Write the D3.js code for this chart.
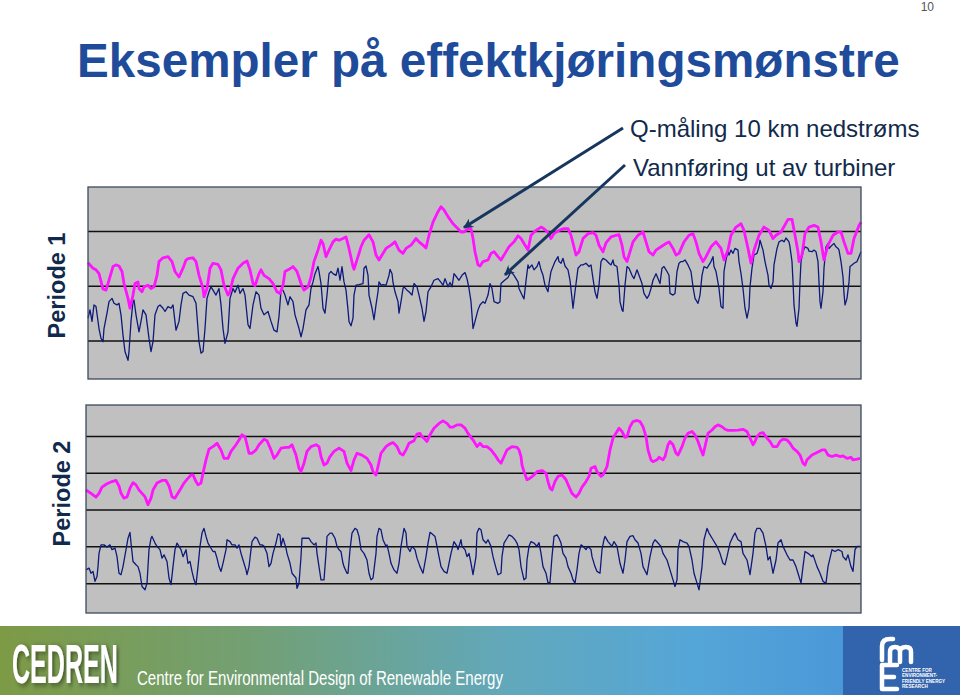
<!DOCTYPE html>
<html><head><meta charset="utf-8">
<script src="https://cdn.jsdelivr.net/npm/d3@7/dist/d3.min.js"></script>
<style>
html,body{margin:0;padding:0;background:#fff;}
svg{display:block;font-family:"Liberation Sans",Arial,Helvetica,sans-serif;}
</style></head>
<body>
<svg id="chart" width="960" height="695"></svg>
<script>
// ---------- DATA ----------
const pageNumber = "10";
const titleText = "Eksempler på effektkjøringsmønstre";
const seriesLabels = ["Q-måling 10 km nedstrøms", "Vannføring ut av turbiner"];
const periodLabels = ["Periode 1", "Periode 2"];
const footerName = "CEDREN";
const footerTagline = "Centre for Environmental Design of Renewable Energy";
const fmeSmallText = ["CENTRE FOR", "ENVIRONMENT-", "FRIENDLY ENERGY", "RESEARCH"];

// grid values (no tick labels shown in the original)
const p1Grid = [100, 200, 300];
const p2Grid = [100, 200, 300, 400, 500];
const p1Domain = [30, 380];
const p2Domain = [19, 584];
const p1Hours = [0, 773];
const p2Hours = [0, 775];

// Periode 1: [hour, value]
const p1Downstream = [[0,242],[5,232],[8,229],[11,222],[15,194],[18,192],[21,210],[25,235],[28,238],[31,236],[34,226],[36,204],[40,177],[42,159],[45,183],[47,204],[50,207],[51,195],[54,189],[56,198],[60,201],[63,195],[66,198],[69,219],[71,244],[75,251],[80,253],[84,244],[87,226],[91,216],[95,232],[98,247],[101,250],[105,251],[108,244],[111,219],[115,195],[116,180],[119,195],[122,232],[125,241],[130,239],[133,229],[136,201],[140,183],[142,189],[145,213],[150,232],[155,241],[159,245],[162,229],[165,204],[167,200],[171,222],[173,229],[176,219],[181,213],[185,204],[189,189],[192,186],[195,201],[197,226],[201,230],[205,235],[209,226],[213,204],[216,192],[220,198],[223,216],[226,244],[230,265],[233,283],[235,277],[238,253],[241,265],[245,280],[248,285],[251,283],[255,286],[258,289],[261,268],[265,235],[266,230],[270,253],[273,271],[276,283],[281,293],[285,280],[288,256],[291,247],[294,256],[298,268],[303,274],[307,280],[311,265],[315,259],[318,268],[323,274],[328,286],[331,280],[335,274],[338,269],[341,292],[345,316],[350,335],[353,344],[356,338],[360,326],[365,313],[370,304],[373,298],[376,298],[380,304],[383,304],[385,286],[387,262],[390,238],[392,236],[395,244],[400,247],[403,259],[406,262],[410,253],[413,247],[417,259],[421,271],[426,280],[430,291],[433,286],[436,277],[440,265],[443,292],[448,301],[453,307],[456,304],[460,297],[463,286],[466,295],[471,301],[476,304],[480,304],[483,292],[488,256],[491,262],[495,286],[500,295],[505,297],[508,292],[511,274],[515,262],[518,278],[523,289],[528,292],[531,293],[534,274],[536,253],[539,244],[541,256],[545,280],[550,292],[555,298],[558,280],[561,262],[565,256],[568,265],[573,271],[578,277],[581,280],[585,268],[588,256],[591,259],[596,280],[601,292],[605,295],[608,280],[611,259],[615,244],[618,253],[623,271],[628,280],[633,268],[636,247],[640,265],[643,292],[648,307],[653,313],[656,301],[660,268],[663,241],[666,265],[671,292],[676,307],[681,301],[685,286],[688,292],[693,298],[700,321],[704,321],[707,292],[710,262],[711,244],[714,256],[717,295],[721,307],[726,310],[730,307],[733,280],[736,247],[740,274],[745,292],[750,298],[753,298],[756,280],[760,259],[763,259],[766,286],[771,310],[773,316]];

const p1Turbine = [[0,141],[2,156],[4,135],[6,165],[8,162],[11,122],[13,104],[15,98],[16,122],[19,150],[21,171],[24,177],[26,168],[29,165],[31,168],[33,147],[35,110],[37,80],[40,64],[41,80],[43,135],[45,171],[46,174],[48,147],[51,116],[53,135],[55,156],[58,147],[61,104],[63,80],[65,98],[67,147],[70,162],[72,165],[75,159],[77,153],[80,162],[83,159],[85,165],[88,119],[91,135],[93,165],[95,186],[98,189],[101,183],[105,180],[108,168],[111,98],[113,77],[115,80],[117,122],[119,177],[121,189],[123,198],[125,192],[128,183],[131,195],[133,165],[135,122],[137,95],[140,116],[142,177],[145,195],[147,188],[150,201],[152,186],[155,195],[157,183],[160,129],[162,122],[165,165],[168,189],[171,183],[173,159],[176,147],[180,153],[183,135],[186,119],[189,116],[191,144],[193,192],[195,192],[197,183],[200,165],[202,180],[205,171],[207,147],[211,122],[213,107],[215,122],[218,156],[221,165],[223,195],[225,207],[227,222],[230,235],[231,226],[233,204],[235,159],[237,150],[239,183],[241,222],[243,226],[245,222],[248,219],[250,232],[252,210],[254,235],[256,207],[258,192],[260,156],[261,135],[263,127],[265,141],[266,183],[268,201],[271,202],[275,204],[276,232],[278,236],[280,219],[281,183],[284,159],[286,138],[288,165],[290,189],[291,207],[293,201],[295,202],[298,201],[301,219],[302,230],[304,222],[305,206],[307,189],[310,171],[311,150],[313,171],[315,195],[316,198],[319,192],[321,189],[324,183],[326,204],[329,198],[331,183],[334,159],[336,135],[338,153],[340,189],[343,198],[346,210],[350,213],[353,206],[355,201],[357,213],[360,198],[362,206],[364,198],[366,222],[369,215],[371,210],[374,219],[377,224],[379,213],[381,195],[383,171],[385,122],[387,135],[390,156],[392,165],[395,171],[397,168],[400,183],[402,204],[404,195],[406,171],[410,168],[412,171],[413,204],[416,209],[420,215],[423,226],[426,219],[430,207],[431,195],[434,183],[436,176],[438,209],[440,238],[441,232],[444,238],[446,229],[449,235],[451,244],[453,229],[455,219],[457,201],[460,189],[461,204],[463,226],[465,235],[467,244],[470,253],[471,244],[473,241],[475,250],[477,236],[480,229],[482,210],[484,177],[485,159],[487,189],[490,232],[493,238],[495,238],[498,241],[501,235],[503,238],[505,213],[507,189],[509,177],[511,201],[513,244],[515,250],[518,247],[521,241],[523,238],[525,247],[526,238],[529,235],[531,201],[532,171],[534,156],[535,153],[537,201],[539,235],[541,232],[544,219],[546,213],[549,229],[551,219],[554,204],[556,186],[559,177],[561,183],[563,195],[565,210],[568,222],[570,213],[572,204],[574,232],[576,235],[579,226],[581,219],[582,186],[585,183],[587,186],[589,226],[591,241],[593,244],[595,244],[597,247],[600,238],[603,226],[605,198],[607,177],[610,168],[612,183],[614,219],[616,235],[619,232],[621,238],[623,244],[625,253],[626,235],[628,226],[631,195],[633,162],[635,159],[636,226],[638,247],[640,262],[641,256],[643,265],[645,259],[647,268],[650,265],[651,244],[653,222],[655,195],[657,159],[659,141],[661,159],[662,198],[664,232],[666,256],[669,259],[671,271],[672,283],[673,277],[675,265],[677,244],[680,219],[681,201],[683,195],[685,207],[686,238],[689,268],[691,280],[694,283],[696,280],[698,287],[701,280],[702,271],[704,244],[705,207],[706,165],[708,132],[709,126],[711,159],[712,207],[713,244],[715,262],[717,271],[720,268],[721,263],[724,262],[726,265],[728,262],[730,244],[731,207],[732,171],[733,159],[735,189],[736,232],[738,271],[740,277],[741,268],[744,274],[746,277],[748,271],[750,268],[751,265],[753,244],[755,216],[756,186],[757,165],[759,177],[761,207],[762,235],[764,238],[766,241],[769,244],[771,253],[773,262]];

// Periode 2: [hour, value]
const p2Downstream = [[0,353],[5,344],[10,334],[13,344],[16,361],[21,370],[26,376],[30,379],[33,364],[35,344],[38,331],[41,334],[44,358],[47,373],[50,367],[53,353],[56,344],[59,335],[62,313],[65,331],[67,353],[71,372],[76,379],[80,379],[83,364],[86,335],[89,331],[91,340],[95,358],[98,372],[101,382],[105,394],[107,394],[110,376],[112,367],[115,372],[117,399],[120,435],[123,464],[128,473],[131,480],[135,462],[138,439],[142,439],[145,458],[150,476],[153,489],[156,503],[159,498],[161,476],[163,453],[166,453],[170,462],[173,476],[178,491],[181,487],[185,462],[188,439],[191,448],[195,467],[200,469],[203,469],[206,476],[210,448],[213,412],[215,403],[218,426],[221,458],[225,471],[230,476],[233,471],[235,444],[238,421],[241,426],[244,444],[248,458],[253,467],[258,458],[261,426],[265,406],[268,435],[271,453],[276,448],[281,439],[285,421],[287,403],[290,394],[292,417],[295,453],[300,471],[303,477],[307,482],[311,471],[314,453],[317,448],[320,462],[323,480],[328,487],[331,505],[334,507],[336,498],[339,491],[341,485],[344,503],[348,521],[353,534],[357,541],[361,534],[364,524],[367,524],[371,530],[375,530],[379,521],[382,507],[385,496],[388,485],[391,471],[394,480],[397,471],[401,471],[405,462],[409,448],[412,435],[415,426],[418,444],[421,462],[426,471],[431,469],[433,462],[435,444],[436,421],[438,403],[441,381],[444,385],[448,394],[451,403],[456,406],[460,399],[462,376],[464,358],[466,353],[469,376],[472,390],[476,394],[480,381],[483,362],[486,344],[490,334],[493,344],[496,361],[500,376],[503,390],[505,412],[509,417],[511,403],[515,390],[517,394],[521,417],[524,462],[527,494],[531,512],[533,521],[536,512],[539,496],[541,498],[544,525],[547,539],[551,542],[554,539],[557,525],[560,498],[562,462],[565,435],[567,430],[571,435],[573,442],[577,435],[579,444],[582,476],[584,485],[587,476],[590,453],[592,448],[596,471],[599,494],[602,507],[606,512],[609,503],[612,485],[615,462],[617,448],[619,471],[622,507],[626,516],[629,525],[632,530],[636,525],[639,518],[642,515],[647,515],[652,516],[657,518],[661,512],[664,494],[667,476],[669,485],[671,498],[674,507],[677,509],[681,494],[684,485],[687,471],[691,471],[694,485],[697,491],[701,489],[704,480],[707,467],[711,458],[714,448],[717,426],[719,421],[721,435],[726,448],[731,455],[736,462],[739,462],[742,448],[746,444],[750,448],[754,444],[757,446],[761,439],[765,442],[767,435],[771,437],[774,439]];

const p2Turbine = [[0,136],[3,141],[5,127],[7,132],[9,105],[11,118],[12,145],[13,181],[15,204],[18,204],[21,198],[24,204],[26,191],[29,195],[31,172],[33,127],[35,123],[37,145],[40,191],[42,222],[44,238],[45,209],[47,159],[50,150],[52,145],[54,127],[56,91],[59,82],[61,100],[63,191],[65,222],[66,227],[69,209],[71,200],[74,191],[76,168],[78,177],[81,159],[83,114],[85,96],[87,145],[89,191],[91,209],[93,200],[95,191],[97,172],[100,191],[102,154],[104,159],[106,132],[108,109],[110,96],[112,145],[114,200],[116,236],[118,249],[120,227],[122,209],[125,195],[127,186],[129,186],[131,168],[133,145],[135,132],[137,154],[140,191],[141,218],[144,213],[146,204],[149,204],[151,195],[153,204],[155,181],[157,163],[160,136],[161,123],[163,145],[165,191],[166,213],[169,225],[171,222],[174,204],[176,204],[178,201],[181,181],[183,145],[185,154],[187,181],[190,209],[192,234],[194,231],[195,200],[197,222],[200,195],[201,181],[204,154],[206,127],[210,114],[211,86],[213,100],[215,172],[216,222],[220,222],[223,222],[225,213],[228,204],[230,209],[231,181],[233,145],[235,109],[238,109],[240,181],[241,227],[244,236],[246,236],[249,222],[251,200],[253,191],[255,186],[257,154],[258,145],[261,127],[262,127],[264,191],[266,236],[269,249],[271,245],[273,227],[275,191],[278,181],[281,163],[283,127],[285,109],[287,114],[290,181],[291,227],[293,249],[295,245],[297,218],[300,200],[301,204],[303,181],[305,154],[308,136],[311,127],[313,154],[315,200],[318,249],[320,236],[321,200],[324,186],[326,200],[329,191],[331,168],[334,145],[337,127],[340,172],[342,209],[344,238],[346,234],[349,227],[351,200],[353,172],[355,145],[358,132],[361,127],[363,154],[365,181],[368,213],[371,200],[372,191],[375,218],[376,200],[379,191],[381,172],[383,181],[385,154],[387,123],[390,172],[391,236],[393,249],[395,245],[397,218],[400,209],[402,218],[405,200],[407,172],[410,141],[412,123],[415,127],[416,172],[418,209],[421,222],[423,231],[426,227],[429,218],[431,209],[433,191],[435,145],[438,109],[440,114],[441,163],[443,200],[445,213],[448,209],[451,200],[453,210],[455,181],[457,145],[460,127],[462,100],[464,102],[466,172],[468,227],[471,231],[473,222],[475,209],[477,181],[480,168],[482,145],[485,127],[487,109],[489,100],[491,136],[493,181],[495,204],[497,200],[500,191],[502,200],[505,191],[506,172],[509,145],[511,132],[514,127],[516,191],[518,218],[519,227],[522,213],[526,200],[528,213],[531,200],[534,154],[537,127],[539,163],[541,213],[544,227],[547,229],[549,218],[552,209],[555,181],[557,145],[561,123],[564,172],[567,209],[569,218],[572,209],[575,200],[577,181],[581,163],[584,136],[587,109],[589,91],[591,109],[592,191],[594,218],[597,213],[601,209],[603,200],[606,163],[608,127],[611,100],[613,82],[616,145],[618,218],[621,249],[623,236],[627,218],[631,200],[634,181],[637,154],[639,150],[641,172],[644,209],[647,227],[649,236],[652,218],[655,213],[657,181],[661,163],[664,123],[667,181],[669,236],[671,249],[674,249],[677,236],[680,200],[682,163],[684,172],[687,127],[690,163],[692,209],[695,218],[697,200],[701,177],[704,163],[707,163],[710,145],[712,127],[715,100],[717,145],[719,186],[722,181],[726,172],[727,177],[731,145],[734,127],[737,105],[740,100],[742,145],[746,191],[749,186],[752,191],[756,186],[757,172],[760,163],[762,177],[765,145],[767,132],[769,191],[771,200],[774,200]];

// annotation arrow targets in Periode 1 data coordinates [hour, value]
const arrowTargets = [[376, 306], [417, 220]];

// ---------- DRAWING ----------
const svg = d3.select("#chart");
const navyText = "#112a4c";
const pink = "#ff14ff";
const navy = "#0d1a7a";

// defs
const defs = svg.append("defs");
defs.append("marker").attr("id","ah").attr("viewBox","0 0 10 10")
  .attr("refX",9).attr("refY",5).attr("markerWidth",13).attr("markerHeight",10)
  .attr("markerUnits","userSpaceOnUse").attr("orient","auto")
  .append("path").attr("d","M0,0 L10,5 L0,10 L3,5 Z").attr("fill","#17365d");
const grad = defs.append("linearGradient").attr("id","band").attr("x1","0").attr("x2","1").attr("y1","0").attr("y2","0");
[[0,"#7d9a45"],[0.3,"#73a074"],[0.6,"#62a8bb"],[0.82,"#55a6d8"],[1,"#4b98d8"]].forEach(s=>grad.append("stop").attr("offset",s[0]).attr("stop-color",s[1]));
const sh = defs.append("filter").attr("id","shadow").attr("x","-20%").attr("y","-20%").attr("width","160%").attr("height","160%");
sh.append("feGaussianBlur").attr("in","SourceAlpha").attr("stdDeviation",3).attr("result","b");
sh.append("feOffset").attr("in","b").attr("dx",4).attr("dy",2).attr("result","o");
sh.append("feComponentTransfer").attr("in","o").attr("result","o2").append("feFuncA").attr("type","linear").attr("slope",0.45);
const mg = sh.append("feMerge"); mg.append("feMergeNode").attr("in","o2"); mg.append("feMergeNode").attr("in","SourceGraphic");

// helper: horizontally fit a text to a target width with a transform
function fitText(sel, x, y, width){
  const len = sel.node().getComputedTextLength();
  sel.attr("transform", `translate(${x},${y}) scale(${width/len},1)`);
  return sel;
}

// page number
svg.append("text").attr("x",934).attr("y",11).attr("text-anchor","end")
  .attr("font-size",12).attr("fill","#555").text(pageNumber);

// title
fitText(svg.append("text").attr("font-size",47.5).attr("font-weight","bold")
  .attr("fill","#1f4b9b").text(titleText), 77, 77, 823);

// panels
function panel(cfg){
  const x = d3.scaleLinear().domain(cfg.hours).range([cfg.left, cfg.right]);
  const y = d3.scaleLinear().domain(cfg.domain).range([cfg.bottom, cfg.top]);
  const g = svg.append("g");
  g.append("rect").attr("x",cfg.left).attr("y",cfg.top)
    .attr("width",cfg.right-cfg.left).attr("height",cfg.bottom-cfg.top).attr("fill","#c0c0c0");
  const ax = g.append("g").attr("transform",`translate(${cfg.left},0)`)
    .call(d3.axisLeft(y).tickValues(cfg.grid).tickSize(-(cfg.right-cfg.left)).tickFormat(""));
  ax.select(".domain").remove();
  ax.selectAll(".tick text").remove();
  ax.selectAll(".tick line").attr("stroke","#111").attr("stroke-width",1.5);
  const line = d3.line().x(d=>x(d[0])).y(d=>y(d[1]));
  g.append("path").datum(cfg.turbine).attr("d",line).attr("fill","none")
    .attr("stroke",navy).attr("stroke-width",1.3).attr("stroke-linejoin","round");
  g.append("path").datum(cfg.downstream).attr("d",line).attr("fill","none")
    .attr("stroke",pink).attr("stroke-width",2.8).attr("stroke-linejoin","round");
  g.append("rect").attr("x",cfg.left).attr("y",cfg.top)
    .attr("width",cfg.right-cfg.left).attr("height",cfg.bottom-cfg.top)
    .attr("fill","none").attr("stroke","#3b4b5e").attr("stroke-width",1.3);
  return {x,y};
}
const s1 = panel({left:88,right:861,top:187,bottom:379,hours:p1Hours,domain:p1Domain,grid:p1Grid,downstream:p1Downstream,turbine:p1Turbine});
const s2 = panel({left:86,right:861,top:405,bottom:613,hours:p2Hours,domain:p2Domain,grid:p2Grid,downstream:p2Downstream,turbine:p2Turbine});

// series labels + arrows
const labelPos = [[630,137],[633,176]];
const arrowStarts = [[623,128],[625,165]];
seriesLabels.forEach((t,i)=>{
  svg.append("text").attr("x",labelPos[i][0]).attr("y",labelPos[i][1]).attr("font-size",24)
    .attr("fill",navyText).text(t);
  svg.append("line").attr("x1",arrowStarts[i][0]).attr("y1",arrowStarts[i][1])
    .attr("x2",s1.x(arrowTargets[i][0])).attr("y2",s1.y(arrowTargets[i][1]))
    .attr("stroke","#17365d").attr("stroke-width",3).attr("marker-end","url(#ah)");
});

// period labels
const periodPos = [[65,285.5],[70,493.5]];
periodLabels.forEach((t,i)=>{
  svg.append("text").attr("transform",`translate(${periodPos[i][0]},${periodPos[i][1]}) rotate(-90)`)
    .attr("text-anchor","middle").attr("font-size",23.5).attr("font-weight","bold")
    .attr("fill",navyText).text(t);
});

// footer
svg.append("rect").attr("x",0).attr("y",626).attr("width",843).attr("height",69).attr("fill","url(#band)");
svg.append("rect").attr("x",843).attr("y",626).attr("width",117).attr("height",69).attr("fill","#3264ad");
fitText(svg.append("text").attr("font-size",55).attr("font-weight","bold")
  .attr("fill","#fff").attr("filter","url(#shadow)").text(footerName), 12, 683, 106);
fitText(svg.append("text").attr("font-size",20)
  .attr("fill","#fff").text(footerTagline), 137, 685, 366);

// fme logo (drawn as shapes)
const logo = svg.append("g").attr("fill","none").attr("stroke","#fff").attr("stroke-width",4.5)
  .attr("stroke-linecap","round").attr("stroke-linejoin","round");
logo.append("path").attr("d","M882,660 V646 Q882,639 890,639 H893");
logo.append("path").attr("d","M890,662 V652 Q890,647 895,647 Q900,647 900,652 V662 M900,652 Q900,647 906,647 Q911,647 911,652 V662");
logo.append("path").attr("d","M897,665 H882 V689 H897 M882,677 H894");
fmeSmallText.forEach((t,i)=>{
  svg.append("text").attr("x",902).attr("y",672+i*5.4).attr("font-size",4.6).attr("font-weight","bold")
    .attr("fill","#fff").text(t);
});
</script>
</body></html>
